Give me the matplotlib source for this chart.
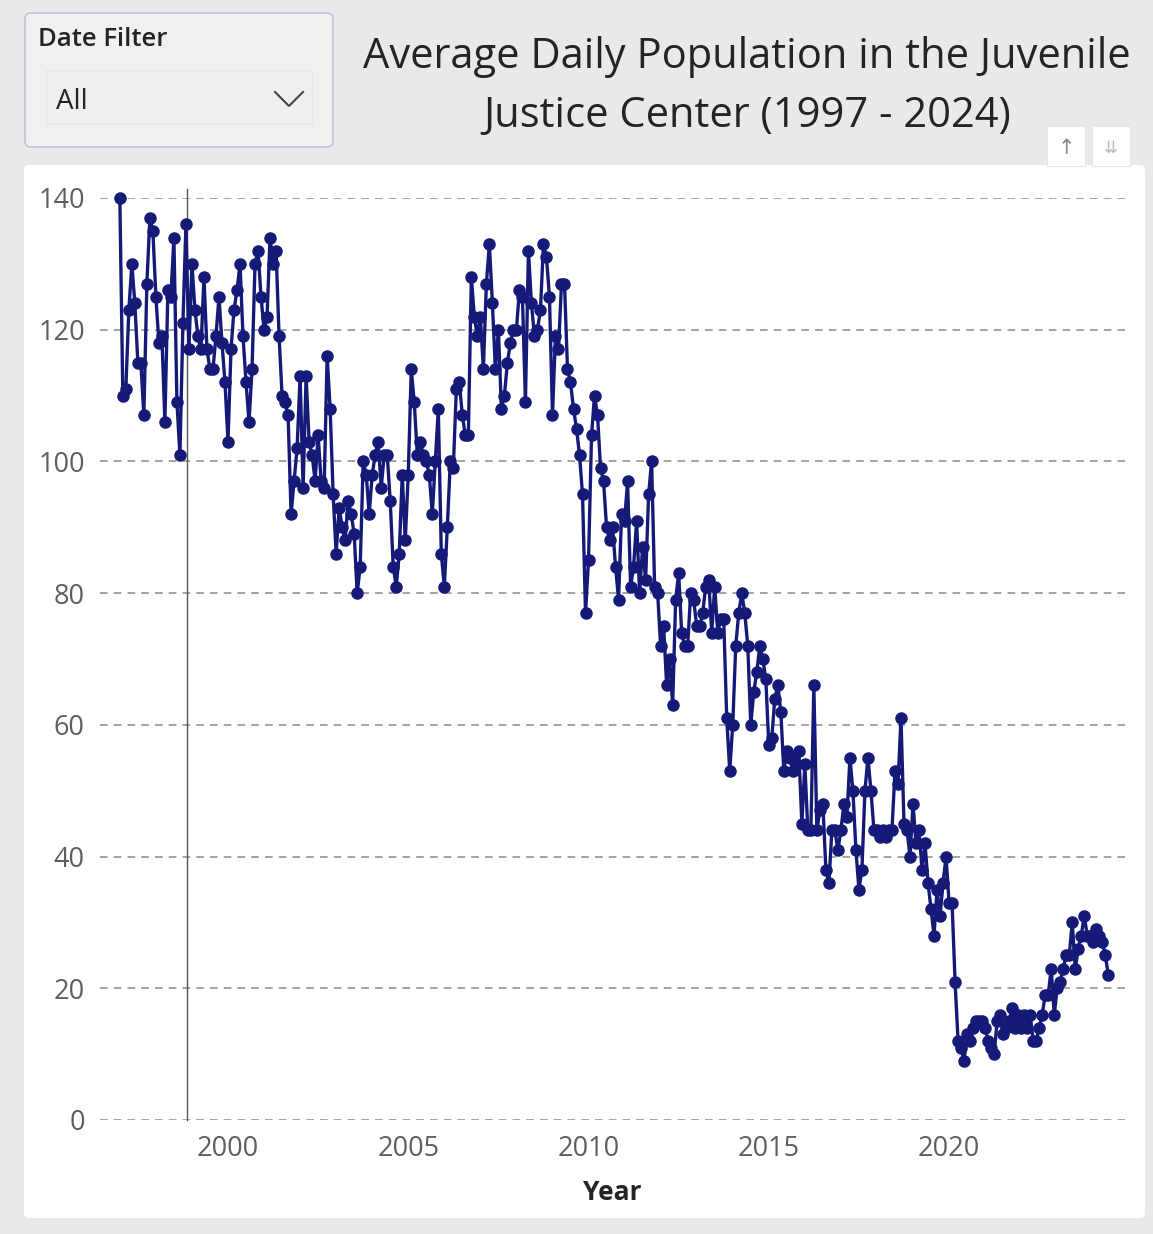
import numpy as np
import matplotlib
matplotlib.use("Agg")
from matplotlib import pyplot as plt
from matplotlib.patches import FancyBboxPatch, Rectangle

plt.rcParams['font.family'] = ['Open Sans', 'DejaVu Sans']

# monthly average daily population, Jan 1997 - Jun 2024
pop_1997_2003 = [140, 110, 111, 123, 130, 124, 115, 115, 107, 127, 137, 135,
                 125, 118, 119, 106, 126, 125, 134, 109, 101, 121, 136, 117,
                 130, 123, 119, 117, 128, 117, 114, 114, 119, 125, 118, 112,
                 103, 117, 123, 126, 130, 119, 112, 106, 114, 130, 132, 125,
                 120, 122, 134, 130, 132, 119, 110, 109, 107, 92, 97, 102,
                 113, 96, 113, 103, 101, 97, 104, 97, 96, 116, 108, 95,
                 86, 93, 90, 88, 94, 92, 89, 80, 84, 100, 98, 92]
pop_2004_2010 = [98, 101, 103, 96, 101, 101, 94, 84, 81, 86, 98, 88,
                 98, 114, 109, 101, 103, 101, 100, 98, 92, 100, 108, 86,
                 81, 90, 100, 99, 111, 112, 107, 104, 104, 128, 122, 119,
                 122, 114, 127, 133, 124, 114, 120, 108, 110, 115, 118, 120,
                 120, 126, 125, 109, 132, 124, 119, 120, 123, 133, 131, 125,
                 107, 119, 117, 127, 127, 114, 112, 108, 105, 101, 95, 77,
                 85, 104, 110, 107, 99, 97, 90, 88, 90, 84, 79, 92]
pop_2011_2017 = [91, 97, 81, 84, 91, 80, 87, 82, 95, 100, 81, 80,
                 72, 75, 66, 70, 63, 79, 83, 74, 72, 72, 80, 79,
                 75, 75, 77, 81, 82, 74, 81, 74, 76, 76, 61, 53,
                 60, 72, 77, 80, 77, 72, 60, 65, 68, 72, 70, 67,
                 57, 58, 64, 66, 62, 53, 56, 55, 53, 54, 56, 45,
                 54, 44, 44, 66, 44, 47, 48, 38, 36, 44, 44, 41,
                 44, 48, 46, 55, 50, 41, 35, 38, 50, 55, 50, 44]
pop_2018_2024 = [44, 43, 44, 43, 44, 44, 53, 51, 61, 45, 44, 40,
                 48, 42, 44, 38, 42, 36, 32, 28, 35, 31, 36, 40,
                 33, 33, 21, 12, 11, 9, 13, 12, 14, 15, 15, 15,
                 14, 12, 11, 10, 15, 16, 13, 14, 15, 17, 14, 16,
                 14, 16, 14, 16, 12, 12, 14, 16, 19, 19, 23, 16,
                 20, 21, 23, 25, 25, 30, 23, 26, 28, 31, 28, 28,
                 27, 29, 28, 27, 25, 22]
population = pop_1997_2003 + pop_2004_2010 + pop_2011_2017 + pop_2018_2024
start_year = 1997
y_ticks = [0, 20, 40, 60, 80, 100, 120, 140]
x_ticks = [2000, 2005, 2010, 2015, 2020]
cursor_year = 1998.87

W, H = 1153, 1234
fig = plt.figure(figsize=(W / 100, H / 100), dpi=100)
fig.patch.set_facecolor('#e9e9e9')


def px(x, y, w, h):
    # pixel box (top-left origin) -> figure fraction
    return [x / W, 1 - (y + h) / H, w / W, h / H]


# white visual panel
panel = FancyBboxPatch((24 / W, 1 - 1218 / H), 1121 / W, 1053 / H,
                       boxstyle="round,pad=0,rounding_size=0.004",
                       transform=fig.transFigure, facecolor='white',
                       edgecolor='none', zorder=-2)
fig.patches.append(panel)

# slicer
slicer = FancyBboxPatch((25 / W, 1 - 147 / H), 308 / W, 134 / H,
                        boxstyle="round,pad=0,rounding_size=0.005",
                        transform=fig.transFigure, facecolor='#f0f0f0',
                        edgecolor='#c3c3dc', linewidth=1.2, zorder=1)
fig.patches.append(slicer)
fig.patches.append(Rectangle((46 / W, 1 - 124 / H), 266 / W, 54 / H,
                             transform=fig.transFigure, facecolor='#efefef',
                             edgecolor='#e6e6e6', linewidth=0.8, zorder=2))
fig.text(38 / W, 1 - 40 / H, 'Date Filter', fontsize=18.5, fontweight='semibold',
         color='#252423', va='center', ha='left')
fig.text(56 / W, 1 - 102 / H, 'All', fontsize=20, color='#252423',
         va='center', ha='left')
chevron = plt.Line2D([275 / W, 289 / W, 303 / W],
                     [1 - 92 / H, 1 - 106 / H, 1 - 92 / H],
                     transform=fig.transFigure, color='#444444',
                     linewidth=1.5, zorder=5)
fig.lines.append(chevron)

# title
fig.text(747 / W, 1 - 57 / H, 'Average Daily Population in the Juvenile',
         fontsize=30, color='#252423', ha='center', va='center')
fig.text(747 / W, 1 - 116 / H, 'Justice Center (1997 - 2024)',
         fontsize=30, color='#252423', ha='center', va='center')

# header icons
for ix in (1047, 1092):
    fig.patches.append(Rectangle((ix / W, 1 - 166 / H), 38 / W, 40 / H,
                                 transform=fig.transFigure, facecolor='white',
                                 edgecolor='#e6e6e6', linewidth=0.8, zorder=1))
fig.text(1066 / W, 1 - 148 / H, '↑', fontsize=15, color='#888888',
         ha='center', va='center', family=['DejaVu Sans'], zorder=3)
fig.text(1111 / W, 1 - 148 / H, '⇊', fontsize=12, color='#bbbbbb',
         ha='center', va='center', family=['DejaVu Sans'], zorder=3)

# chart
ax = fig.add_axes(px(100, 198, 1025, 922))
ax.set_zorder(5)
ax.set_facecolor('none')
x = start_year + np.arange(len(population)) / 12.0
ax.plot(x, population, color='#151a78', linewidth=2.4, marker='o',
        markersize=8, clip_on=False, zorder=3)
ax.axvline(cursor_year, ymax=1.01, color='#555555', linewidth=1, zorder=2,
           clip_on=False)

ax.set_xlim(1996.45, 2024.88)
ax.set_ylim(0, 140)
ax.set_yticks(y_ticks)
ax.set_xticks(x_ticks)
ax.grid(axis='y', linestyle=(0, (5, 4)), color='#8a8a8a', linewidth=1.1)
ax.set_axisbelow(True)
for s in ax.spines.values():
    s.set_visible(False)
ax.tick_params(length=0, labelsize=19.5, labelcolor='#605e5c')
ax.tick_params(axis='y', pad=11)
ax.tick_params(axis='x', pad=11)
ax.set_xlabel('Year', fontsize=19, fontweight='bold', color='#252423',
              labelpad=11)

fig.savefig('out.png', dpi=100, facecolor=fig.get_facecolor())
